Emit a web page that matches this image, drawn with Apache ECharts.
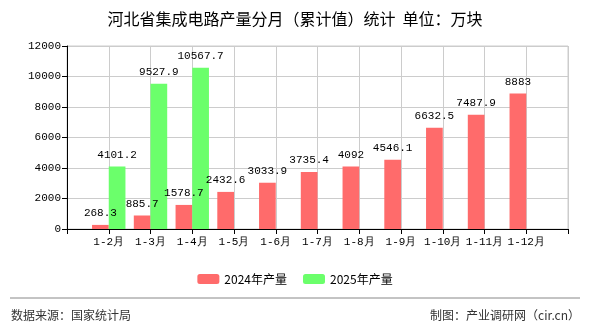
<!DOCTYPE html>
<html>
<head>
<meta charset="utf-8">
<script src="https://cdn.jsdelivr.net/npm/echarts@6/dist/echarts.min.js"></script>
<style>
  html, body { margin: 0; padding: 0; background: #fff; }
  #chart { width: 590px; height: 330px; }
</style>
</head>
<body>
<div id="chart"></div>
<script>
// Category slots (blank slots at both ends keep the bars off the axis edges)
var categories = ['', '1-2月', '1-3月', '1-4月', '1-5月', '1-6月', '1-7月', '1-8月', '1-9月', '1-10月', '1-11月', '1-12月', ''];
var output2024 = [null, 268.3, 885.7, 1578.7, 2432.6, 3033.9, 3735.4, 4092, 4546.1, 6632.5, 7487.9, 8883, null];
var output2025 = [null, 4101.2, 9527.9, 10567.7, null, null, null, null, null, null, null, null, null];
var seriesNames = ['2024年产量', '2025年产量'];
var yTicks = { min: 0, max: 12000, interval: 2000 };

var mono = '"Liberation Mono", "DejaVu Sans Mono", monospace';
var cjk = '"Noto Sans CJK SC", sans-serif';

var chart = echarts.init(document.getElementById('chart'), null, { renderer: 'canvas' });

function valueLabel() {
  return {
    show: true,
    position: 'top',
    distance: 6,
    color: '#000',
    fontFamily: mono,
    fontSize: 11,
    formatter: function (p) { return p.value == null ? '' : String(p.value); }
  };
}

chart.setOption({
  backgroundColor: '#fff',
  animation: false,
  title: {
    text: '河北省集成电路产量分月（累计值）统计  单位：万块',
    left: 'center',
    top: 6,
    textStyle: { fontFamily: cjk, fontSize: 16, fontWeight: 'normal', color: '#000' }
  },
  legend: {
    data: seriesNames,
    left: 'center',
    top: 268,
    itemWidth: 22,
    itemHeight: 10,
    itemGap: 16,
    textStyle: { fontFamily: cjk, fontSize: 12, color: '#000' }
  },
  grid: { left: 67, right: 22, top: 46, bottom: 101, show: true, borderColor: '#ccc', borderWidth: 1 },
  xAxis: {
    type: 'category',
    data: categories,
    boundaryGap: false,
    axisLine: { lineStyle: { color: '#000' } },
    axisTick: { show: true, length: 5, lineStyle: { color: '#000' } },
    axisLabel: { color: '#000', fontFamily: mono, fontSize: 11, margin: 8, interval: 0 },
    splitLine: { show: true, lineStyle: { color: '#ccc' } }
  },
  yAxis: {
    type: 'value',
    min: yTicks.min,
    max: yTicks.max,
    interval: yTicks.interval,
    axisLine: { show: true, lineStyle: { color: '#000' } },
    axisTick: { show: true, length: 5, lineStyle: { color: '#000' } },
    axisLabel: { color: '#000', fontFamily: mono, fontSize: 11, margin: 6, formatter: function (v) { return String(v); } },
    splitLine: { show: true, lineStyle: { color: '#ccc' } }
  },
  series: [
    {
      name: seriesNames[0],
      type: 'bar',
      data: output2024,
      barGap: '0%',
      barCategoryGap: '20%',
      itemStyle: { color: '#ff6b6b' },
      label: valueLabel()
    },
    {
      name: seriesNames[1],
      type: 'bar',
      data: output2025,
      barGap: '0%',
      barCategoryGap: '20%',
      itemStyle: { color: '#6bff6b' },
      label: valueLabel()
    }
  ],
  graphic: [
    { type: 'line', shape: { x1: 10, y1: 298, x2: 580, y2: 298 }, style: { stroke: '#888', lineWidth: 1 } },
    { type: 'text', left: 11, top: 309, style: { text: '数据来源：国家统计局', fill: '#333', font: '12px ' + cjk } },
    { type: 'text', right: 10, top: 309, style: { text: '制图：产业调研网（cir.cn）', fill: '#333', font: '12px ' + cjk } }
  ]
});
</script>
</body>
</html>
